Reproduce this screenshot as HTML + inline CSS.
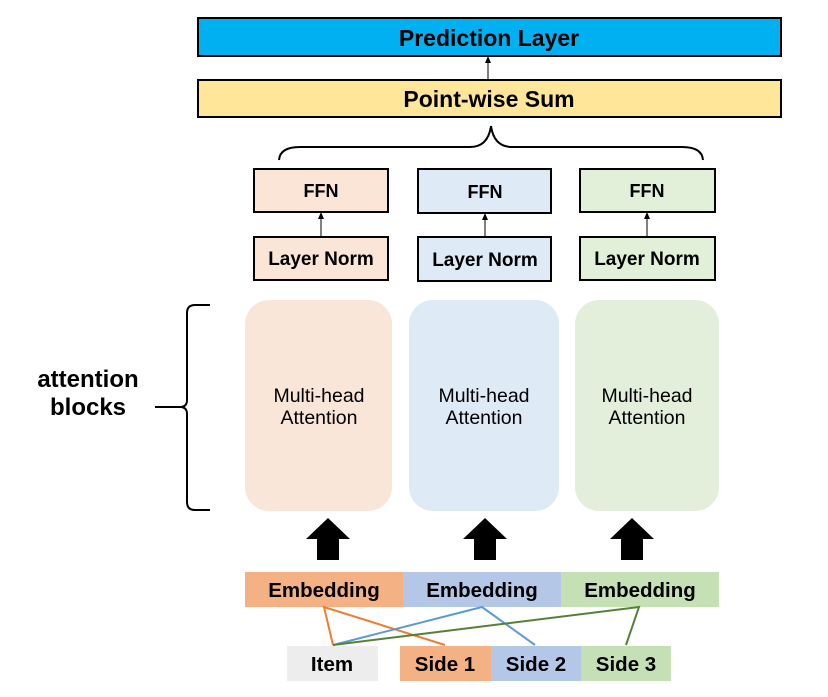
<!DOCTYPE html>
<html><head><meta charset="utf-8"><style>
body{margin:0;background:#fff;}
svg text{font-family:"Liberation Sans","Noto Sans CJK KR",sans-serif;font-weight:bold;fill:#000;}
</style></head><body>
<svg width="828" height="692" viewBox="0 0 828 692" xmlns="http://www.w3.org/2000/svg">
<rect x="198" y="18" width="583" height="38" fill="#00b0f0" stroke="#000" stroke-width="2"/>
<text x="489" y="46" font-size="23" text-anchor="middle">Prediction Layer</text>
<rect x="198" y="80" width="583" height="37" fill="#ffe699" stroke="#000" stroke-width="2"/>
<text x="489" y="107" font-size="23" text-anchor="middle">Point-wise Sum</text>
<line x1="488" y1="79" x2="488" y2="62" stroke="#000" stroke-width="1"/>
<polygon points="488,56 485,63 491,63" fill="#000"/>
<path d="M279,160 Q280,147 300,147 L470,147 Q488,147 491,126 Q494,147 512,147 L682,147 Q702,147 703,160" fill="none" stroke="#000" stroke-width="2"/>
<g stroke="#000" stroke-width="2">
<rect x="254" y="169" width="134" height="43" fill="#fbe5d6"/>
<rect x="418" y="169" width="133" height="44" fill="#deebf7"/>
<rect x="580" y="169" width="135" height="43" fill="#e2f0d9"/>
<rect x="254" y="237" width="134" height="43" fill="#fbe5d6"/>
<rect x="418" y="237" width="133" height="44" fill="#deebf7"/>
<rect x="580" y="237" width="135" height="43" fill="#e2f0d9"/>
</g>
<g font-size="18" text-anchor="middle">
<text x="321" y="197">FFN</text><text x="485" y="198">FFN</text><text x="647" y="197">FFN</text>
</g>
<g font-size="19" text-anchor="middle">
<text x="321" y="265">Layer Norm</text><text x="485" y="266">Layer Norm</text><text x="647" y="265">Layer Norm</text>
</g>
<g stroke="#000" stroke-width="1">
<line x1="321" y1="236" x2="321" y2="218"/><line x1="485" y1="236" x2="485" y2="218"/><line x1="647" y1="236" x2="647" y2="218"/>
</g>
<g fill="#000">
<polygon points="321,212 318,219 324,219"/><polygon points="485,213 482,220 488,220"/><polygon points="647,212 644,219 650,219"/>
</g>
<rect x="245" y="300" width="147" height="211" rx="24" fill="#fae5d9"/>
<rect x="409" y="300" width="150" height="211" rx="24" fill="#deeaf5"/>
<rect x="575" y="300" width="144" height="211" rx="24" fill="#e3efda"/>
<g font-size="19.5" text-anchor="middle">
<text x="319" y="402" style="font-weight:normal">Multi-head</text><text x="319" y="424" style="font-weight:normal">Attention</text>
<text x="484" y="402" style="font-weight:normal">Multi-head</text><text x="484" y="424" style="font-weight:normal">Attention</text>
<text x="647" y="402" style="font-weight:normal">Multi-head</text><text x="647" y="424" style="font-weight:normal">Attention</text>
</g>
<path d="M210,305 L195,305 Q187,305 187,313 L187,400 Q187,407 180,407 Q187,407 187,414 L187,502 Q187,510 195,510 L210,510" fill="none" stroke="#000" stroke-width="2"/>
<line x1="155" y1="407" x2="181" y2="407" stroke="#000" stroke-width="2"/>
<text x="88" y="387" font-size="24" text-anchor="middle">attention</text>
<text x="88" y="415" font-size="24" text-anchor="middle">blocks</text>
<g fill="#000">
<polygon points="328,518 350,539 339,539 339,560 317,560 317,539 306,539"/>
<polygon points="485,518 507,539 496,539 496,560 474,560 474,539 463,539"/>
<polygon points="632,518 654,539 643,539 643,560 621,560 621,539 610,539"/>
</g>
<rect x="245" y="572" width="158" height="35" fill="#f4b183"/>
<rect x="403" y="572" width="158" height="35" fill="#b4c7e7"/>
<rect x="561" y="572" width="158" height="35" fill="#c5e0b4"/>
<g font-size="20.5" text-anchor="middle">
<text x="324" y="597">Embedding</text><text x="482" y="597">Embedding</text><text x="640" y="597">Embedding</text>
</g>
<rect x="287" y="646" width="91" height="35" fill="#ededed"/>
<rect x="400" y="646" width="91" height="35" fill="#f4b183"/>
<rect x="491" y="646" width="90" height="35" fill="#b4c7e7"/>
<rect x="581" y="646" width="90" height="35" fill="#c5e0b4"/>
<g font-size="20.5" text-anchor="middle">
<text x="332" y="671">Item</text><text x="445" y="671">Side 1</text><text x="536" y="671">Side 2</text><text x="626" y="671">Side 3</text>
</g>
<g fill="none" stroke-width="2">
<polyline points="333,645 324,607 445,645" stroke="#ed7d31"/>
<polyline points="333,645 482,607 535,645" stroke="#5b9bd5"/>
<polyline points="333,645 639,607 626,645" stroke="#548235"/>
</g>
</svg>
</body></html>
